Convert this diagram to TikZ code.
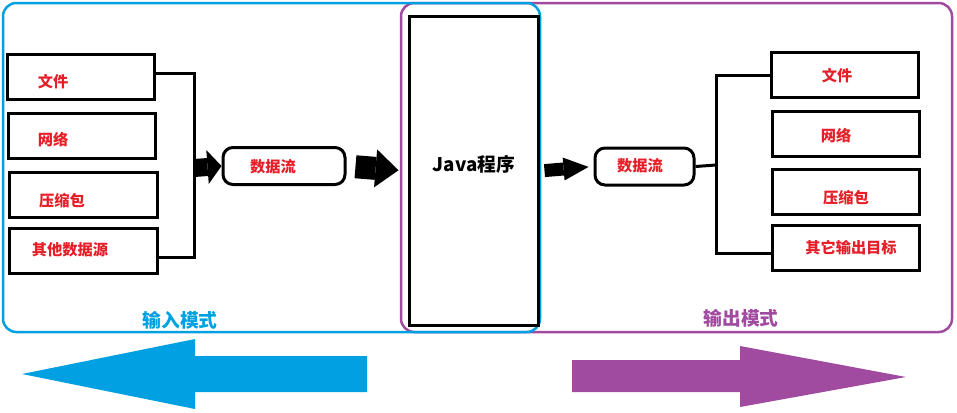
\documentclass[tikz,border=0pt]{standalone}
\usepackage{fontspec}
\setmainfont{Noto Sans CJK SC}
\usetikzlibrary{arrows.meta}
\definecolor{inblue}{RGB}{0,160,226}
\definecolor{outpurple}{RGB}{160,74,160}
\definecolor{txtred}{RGB}{230,30,40}

\begin{document}
\begin{tikzpicture}[x=0.03cm, y=-0.03cm, font=\fontsize{13}{15}\selectfont\bfseries,
  box/.style={draw, line width=0.09cm, minimum width=4.41cm, minimum height=1.35cm, inner sep=0pt},
  flow/.style={draw, line width=0.09cm, rounded corners=0.3cm, minimum height=1.11cm, inner sep=0pt},
  txt/.style={text=txtred, inner sep=0pt},
  wire/.style={line width=0.09cm},
  blk/.style={line width=#1, -{Triangle[length=0.42cm, width=1.02cm, line width=0pt]}},
  mode/.style={inner sep=0pt, font=\fontsize{16}{18}\selectfont\bfseries}]
\useasboundingbox (0,0) rectangle (957,412);
% frames of the two modes
\draw[outpurple, line width=0.075cm, rounded corners=0.4cm] (401,3) rectangle (952,332);
\draw[inblue, line width=0.075cm, rounded corners=0.4cm] (3,3) rectangle (540,332);
% input side
\node[box] (src1) at (81,76.5) {};
\node[box] (src2) at (82,135.5) {};
\node[box] (src3) at (83.5,194.5) {};
\node[box] (src4) at (83.5,250.5) {};
\node[txt] at (53,82) {文件};
\node[txt] at (53,140) {网络};
\node[txt] at (62,201) {压缩包};
\node[txt] at (70,250) {其他数据源};
\coordinate (jl) at (194,168);
\draw[wire] ([yshift=0.1cm]src1.east) -| (jl) |- ([yshift=-0.2cm]src4.east);
\node[flow, minimum width=3.66cm] (ds1) at (284,166) {};
\node[txt] at (273,167) {数据流};
\draw[blk=0.54cm] (jl) -- (ds1.west);
% program
\node[box, minimum width=3.87cm, minimum height=9.24cm] (java) at (473.5,171) {};
\node[inner sep=0pt, font=\fontsize{16}{18}\selectfont\bfseries] (javatxt) at (474,164) {Java程序};
\draw[blk=0.69cm, -{Triangle[length=0.69cm, width=1.14cm, line width=0pt]},
  shorten <=0.27cm, shorten >=0.27cm] (ds1.east) -- (java.west);
% output side
\node[flow, minimum width=2.97cm] (ds2) at (644.5,166.5) {};
\node[txt] at (640,166) {数据流};
\draw[blk=0.39cm, -{Triangle[length=0.75cm, width=0.69cm, line width=0pt]},
  shorten <=0.15cm, shorten >=0.15cm] (java.east) -- (ds2.west);
\node[box] (dst1) at (844.5,75) {};
\node[box] (dst2) at (845.5,134) {};
\node[box] (dst3) at (846,191.5) {};
\node[box] (dst4) at (846,248) {};
\node[txt] at (837,76) {文件};
\node[txt] at (836,136) {网络};
\node[txt] at (846,198) {压缩包};
\node[txt] at (851,248) {其它输出目标};
\coordinate (jr) at (716,165);
\draw[wire] (ds2.east) -- (jr);
\draw[wire] (dst1.west) -| (jr) |- ([yshift=-0.15cm]dst4.west);
% mode labels and big arrows
\node[mode, text=inblue] (inmode) at (180,320) {输入模式};
\node[mode, text=outpurple] (outmode) at (741,318) {输出模式};
\fill[inblue] (22,374) -- (195,339) -- (195,356) -- (367,356) -- (367,392)
  -- (195,392) -- (195,409) -- cycle;
\fill[outpurple] (572,360) -- (740,360) -- (740,346) -- (906,377) -- (740,407)
  -- (740,392) -- (572,392) -- cycle;
\end{tikzpicture}
\end{document}
